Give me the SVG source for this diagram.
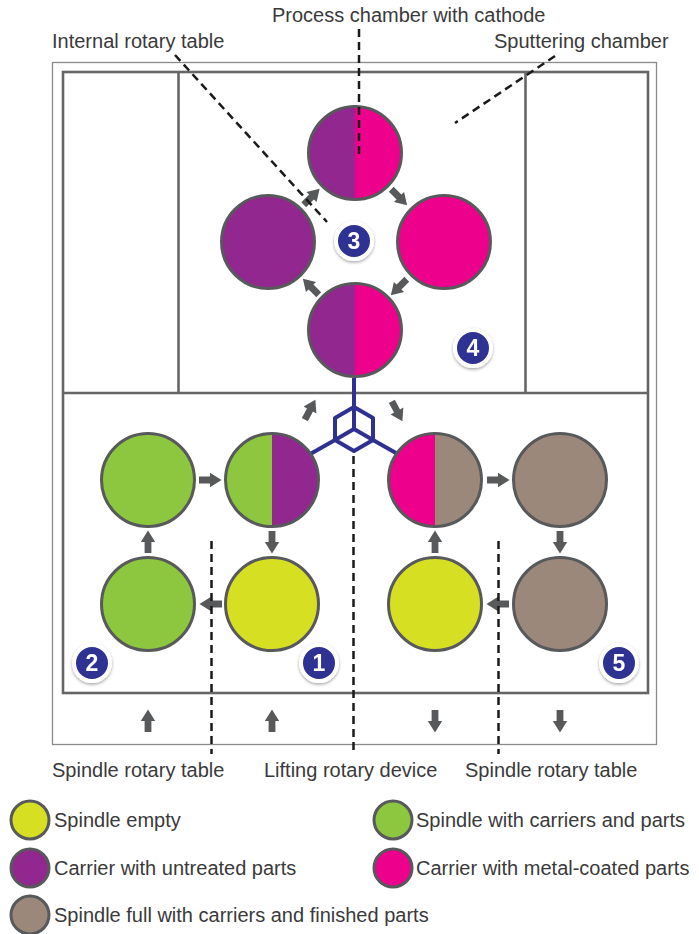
<svg xmlns="http://www.w3.org/2000/svg" width="699" height="934" viewBox="0 0 699 934">
<style>
.lbl{font-family:"Liberation Sans",Arial,sans-serif;font-size:20px;fill:#3a3a3a}
.num{font-family:"Liberation Sans",Arial,sans-serif;font-size:23px;font-weight:bold;fill:#fff;text-anchor:middle}
.ring{fill:none;stroke:#58595b;stroke-width:3}
.yel{fill:#d7df23}.grn{fill:#8dc63f}.pur{fill:#92278f}.pnk{fill:#ec008c}.brn{fill:#9c887b}
.dash{fill:none;stroke:#1a1a1a;stroke-width:2.5;stroke-dasharray:8 5}
.frame{fill:none;stroke:#666;stroke-width:2.6}
.blue{fill:none;stroke:#2e3192;stroke-width:4;stroke-linejoin:round}
.badge{fill:#2e3192;stroke:#fff;stroke-width:4}
</style>
<defs>
<path id="arr" d="M-11,-3.4 L0,-3.4 L0,-7.2 L11.5,0 L0,7.2 L0,3.4 L-11,3.4 Z" fill="#58595b"/>
<filter id="sh" x="-50%" y="-50%" width="200%" height="200%">
<feDropShadow dx="0" dy="1.5" stdDeviation="1.5" flood-color="#000" flood-opacity="0.35"/>
</filter>
</defs>
<rect width="699" height="934" fill="#fff"/>
<g id="frames">
<rect x="52.5" y="62.5" width="604" height="682" fill="#fff" stroke="#8a8a8a" stroke-width="1.3"/>
<rect x="63" y="72" width="585" height="621" class="frame"/>
<line x1="63" y1="393" x2="648" y2="393" class="frame"/>
<line x1="178.5" y1="72" x2="178.5" y2="393" class="frame"/>
<line x1="525.5" y1="72" x2="525.5" y2="393" class="frame"/>
</g>
<g id="lifting-device">
<line x1="354" y1="378" x2="354" y2="407" class="blue"/>
<path d="M354,407 L373,418 L373,440 L354,451 L335,440 L335,418 Z" class="blue"/>
<path d="M354,407 L354,429 L335,440 M354,429 L373,440" class="blue"/>
<line x1="335" y1="440" x2="305" y2="457" class="blue"/>
<line x1="373" y1="440" x2="403" y2="457" class="blue"/>
</g>
<g id="node-top">
<path d="M355,106.5 A46.5,46.5 0 0 0 355,199.5 Z" class="pur"/>
<path d="M355,106.5 A46.5,46.5 0 0 1 355,199.5 Z" class="pnk"/>
<circle cx="355" cy="153" r="46.5" class="ring"/>
</g>
<g id="node-left">
<circle cx="268" cy="242" r="46.5" class="pur"/>
<circle cx="268" cy="242" r="46.5" class="ring"/>
</g>
<g id="node-right">
<circle cx="444" cy="242" r="46.5" class="pnk"/>
<circle cx="444" cy="242" r="46.5" class="ring"/>
</g>
<g id="node-bottom">
<path d="M355,283.5 A46.5,46.5 0 0 0 355,376.5 Z" class="pur"/>
<path d="M355,283.5 A46.5,46.5 0 0 1 355,376.5 Z" class="pnk"/>
<circle cx="355" cy="330" r="46.5" class="ring"/>
</g>
<g id="node-a1">
<circle cx="148" cy="480" r="46.5" class="grn"/>
<circle cx="148" cy="480" r="46.5" class="ring"/>
</g>
<g id="node-a2">
<path d="M272,433.5 A46.5,46.5 0 0 0 272,526.5 Z" class="grn"/>
<path d="M272,433.5 A46.5,46.5 0 0 1 272,526.5 Z" class="pur"/>
<circle cx="272" cy="480" r="46.5" class="ring"/>
</g>
<g id="node-a3">
<path d="M435,433.5 A46.5,46.5 0 0 0 435,526.5 Z" class="pnk"/>
<path d="M435,433.5 A46.5,46.5 0 0 1 435,526.5 Z" class="brn"/>
<circle cx="435" cy="480" r="46.5" class="ring"/>
</g>
<g id="node-a4">
<circle cx="560" cy="480" r="46.5" class="brn"/>
<circle cx="560" cy="480" r="46.5" class="ring"/>
</g>
<g id="node-b1">
<circle cx="148" cy="604" r="46.5" class="grn"/>
<circle cx="148" cy="604" r="46.5" class="ring"/>
</g>
<g id="node-b2">
<circle cx="272" cy="604" r="46.5" class="yel"/>
<circle cx="272" cy="604" r="46.5" class="ring"/>
</g>
<g id="node-b3">
<circle cx="435" cy="604" r="46.5" class="yel"/>
<circle cx="435" cy="604" r="46.5" class="ring"/>
</g>
<g id="node-b4">
<circle cx="560" cy="604" r="46.5" class="brn"/>
<circle cx="560" cy="604" r="46.5" class="ring"/>
</g>
<g id="connectors">
<use href="#arr" transform="translate(311.5,197) rotate(-45)"/>
<use href="#arr" transform="translate(399,197) rotate(45)"/>
<use href="#arr" transform="translate(399,287) rotate(135)"/>
<use href="#arr" transform="translate(311,287) rotate(225)"/>
<use href="#arr" transform="translate(310,410) rotate(-62)"/>
<use href="#arr" transform="translate(397,411) rotate(62)"/>
<use href="#arr" transform="translate(210,480)"/>
<use href="#arr" transform="translate(498,480)"/>
<use href="#arr" transform="translate(211,604) rotate(180)"/>
<use href="#arr" transform="translate(498,604) rotate(180)"/>
<use href="#arr" transform="translate(272,542) rotate(90)"/>
<use href="#arr" transform="translate(148,542) rotate(-90)"/>
<use href="#arr" transform="translate(435,542) rotate(-90)"/>
<use href="#arr" transform="translate(560,542) rotate(90)"/>
<use href="#arr" transform="translate(148,721) rotate(-90)"/>
<use href="#arr" transform="translate(272,721) rotate(-90)"/>
<use href="#arr" transform="translate(435,721) rotate(90)"/>
<use href="#arr" transform="translate(560,721) rotate(90)"/>
</g>
<g id="badges" filter="url(#sh)">
<g id="badge-3"><circle cx="354" cy="241" r="18" class="badge"/><text x="354" y="249" class="num">3</text></g>
<g id="badge-4"><circle cx="473" cy="348" r="18" class="badge"/><text x="473" y="356" class="num">4</text></g>
<g id="badge-2"><circle cx="92" cy="663" r="18" class="badge"/><text x="92" y="671" class="num">2</text></g>
<g id="badge-1"><circle cx="319" cy="663" r="18" class="badge"/><text x="319" y="671" class="num">1</text></g>
<g id="badge-5"><circle cx="619" cy="663" r="18" class="badge"/><text x="619" y="671" class="num">5</text></g>
</g>
<g id="leaders">
<line x1="359" y1="29" x2="359" y2="156" class="dash"/>
<line x1="175" y1="55" x2="327" y2="222" class="dash"/>
<line x1="555" y1="56" x2="455" y2="123" class="dash"/>
<line x1="211.5" y1="541" x2="211.5" y2="754" class="dash"/>
<line x1="353.5" y1="456" x2="353.5" y2="754" class="dash"/>
<line x1="498.5" y1="541" x2="498.5" y2="754" class="dash"/>
</g>
<g id="labels">
<text x="272" y="22" class="lbl">Process chamber with cathode</text>
<text x="52" y="48" class="lbl">Internal rotary table</text>
<text x="494" y="48" class="lbl">Sputtering chamber</text>
<text x="52" y="777" class="lbl">Spindle rotary table</text>
<text x="264" y="777" class="lbl">Lifting rotary device</text>
<text x="465" y="777" class="lbl">Spindle rotary table</text>
</g>
<g id="legend">
<circle cx="30" cy="820" r="19" class="yel"/><circle cx="30" cy="820" r="19" class="ring"/>
<text x="54" y="827" class="lbl">Spindle empty</text>
<circle cx="393" cy="820" r="19" class="grn"/><circle cx="393" cy="820" r="19" class="ring"/>
<text x="416" y="827" class="lbl">Spindle with carriers and parts</text>
<circle cx="30" cy="868" r="19" class="pur"/><circle cx="30" cy="868" r="19" class="ring"/>
<text x="54" y="875" class="lbl">Carrier with untreated parts</text>
<circle cx="393" cy="868" r="19" class="pnk"/><circle cx="393" cy="868" r="19" class="ring"/>
<text x="416" y="875" class="lbl">Carrier with metal-coated parts</text>
<circle cx="30" cy="915" r="19" class="brn"/><circle cx="30" cy="915" r="19" class="ring"/>
<text x="54" y="922" class="lbl">Spindle full with carriers and finished parts</text>
</g>
</svg>
